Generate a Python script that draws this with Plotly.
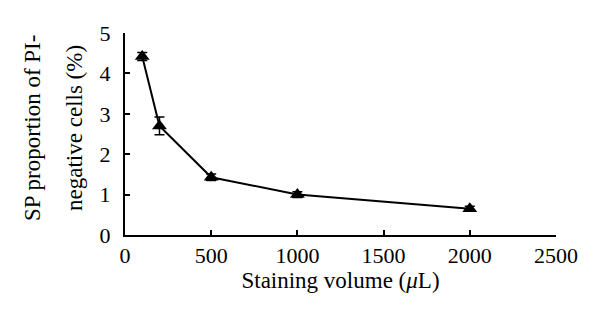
import plotly.graph_objects as go

# Staining volume (µL) vs. SP proportion among PI-negative cells
volume = [100, 200, 500, 1000, 2000]
sp_prop = [4.42, 2.70, 1.43, 1.00, 0.65]
sp_err = [0.10, 0.22, 0.08, 0.07, 0.06]

x_ticks = [0, 500, 1000, 1500, 2000, 2500]
y_ticks = [0, 1, 2, 3, 4, 5]

FONT = "Liberation Serif"

fig = go.Figure()
fig.add_trace(go.Scatter(
    x=volume, y=sp_prop,
    mode="lines+markers",
    line=dict(color="black", width=2),
    marker=dict(symbol="triangle-up", size=13, color="black"),
    error_y=dict(type="data", array=sp_err, visible=True,
                 color="black", thickness=1.5, width=5),
    showlegend=False,
))

axis_common = dict(
    showgrid=False, zeroline=False,
    showline=True, linecolor="black", linewidth=2,
    ticks="inside", ticklen=5, tickwidth=1.5, tickcolor="black",
    tickfont=dict(family=FONT, size=22, color="black"),
)

fig.update_xaxes(range=[0, 2500], tickvals=x_ticks, **axis_common,
                 title=dict(text="Staining volume (<i>μ</i>L)",
                            font=dict(family=FONT, size=23, color="black"),
                            standoff=2))
fig.update_yaxes(range=[0, 5], tickvals=y_ticks, ticklabelstandoff=8,
                 **axis_common)

# Two-line y-axis title
for text, xp in [("SP proportion of PI-", 33), ("negative cells (%)", 75)]:
    fig.add_annotation(
        text=text, textangle=-90, showarrow=False,
        xref="paper", yref="paper",
        x=(xp - 125) / 431, y=0.53,
        xanchor="center", yanchor="middle",
        font=dict(family=FONT, size=23, color="black"),
    )

fig.update_layout(
    width=600, height=326,
    margin=dict(l=125, r=44, t=33, b=91),
    plot_bgcolor="white", paper_bgcolor="white",
)

fig.write_html("out.html")
